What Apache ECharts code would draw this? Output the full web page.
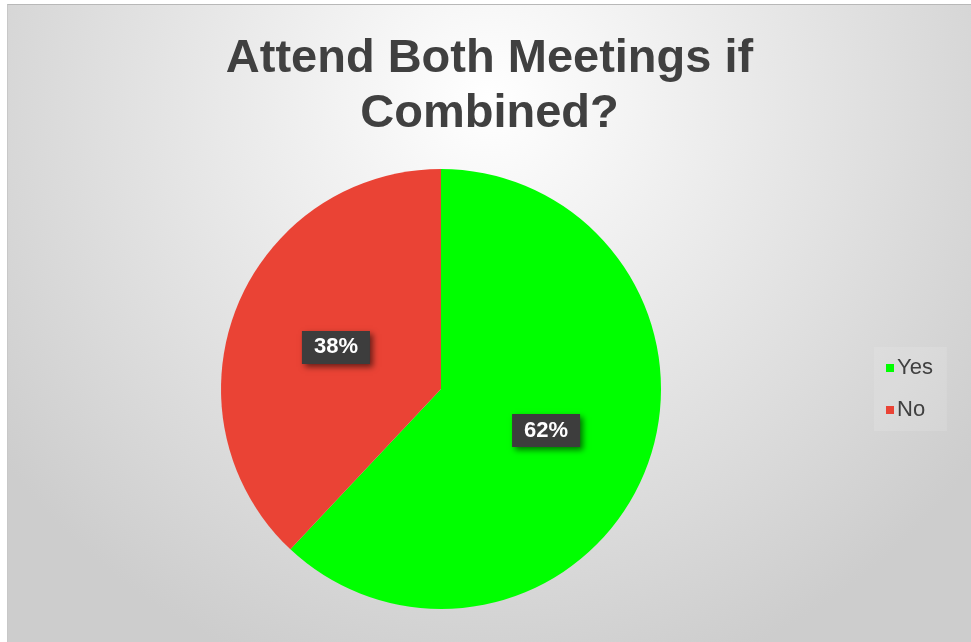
<!DOCTYPE html>
<html>
<head>
<meta charset="utf-8">
<script src="https://cdn.jsdelivr.net/npm/echarts@6/dist/echarts.min.js"></script>
<style>
  html, body { margin: 0; padding: 0; background: #fff; }
  #chart {
    position: absolute; left: 7px; top: 4px;
    width: 964px; height: 638px;
    border-top: 1px solid #b8b8b8; border-left: 1px solid #c8c8c8;
    box-sizing: border-box;
  }
</style>
</head>
<body>
<div id="chart"></div>
<script>
var titleText = 'Attend Both Meetings if\nCombined?';
var categories = ['Yes', 'No'];
var percents = [62, 38];
var colors = ['#00ff00', '#ea4335'];

var chart = echarts.init(document.getElementById('chart'));
var option = {
    backgroundColor: {
        type: 'radial', x: 0.5, y: 0.15, r: 0.95,
        colorStops: [
            { offset: 0, color: '#ffffff' },
            { offset: 1, color: '#cdcdcd' }
        ]
    },
    title: {
        text: titleText,
        left: 'center',
        top: 22,
        textStyle: {
            fontFamily: 'Liberation Sans, Arial, sans-serif',
            fontSize: 47,
            fontWeight: 'bold',
            color: '#404040',
            lineHeight: 55
        }
    },
    legend: {
        orient: 'vertical',
        left: 866,
        top: 342,
        padding: [10, 14, 10, 12],
        backgroundColor: 'rgba(255,255,255,0.12)',
        icon: 'rect',
        itemWidth: 8,
        itemHeight: 8,
        itemGap: 20,
        data: categories,
        textStyle: {
            fontFamily: 'Liberation Sans, Arial, sans-serif',
            fontSize: 22,
            color: '#404040',
            padding: [0, 0, 0, -2]
        }
    },
    series: [{
        type: 'pie',
        center: [433, 384],
        radius: [0, 220],
        startAngle: 90,
        clockwise: true,
        animation: false,
        data: categories.map(function (c, i) {
            return { name: c, value: percents[i], itemStyle: { color: colors[i] } };
        }),
        label: {
            position: 'inside',
            formatter: '{c}%',
            fontFamily: 'Liberation Sans, Arial, sans-serif',
            fontSize: 22,
            fontWeight: 'bold',
            color: '#ffffff',
            backgroundColor: '#3d3d3d',
            padding: [6, 12, 5, 12],
            shadowColor: 'rgba(0,0,0,0.55)',
            shadowBlur: 6,
            shadowOffsetX: 3,
            shadowOffsetY: 3
        },
        labelLine: { show: false },
        emphasis: { disabled: true }
    }]
};
chart.setOption(option);
</script>
</body>
</html>
